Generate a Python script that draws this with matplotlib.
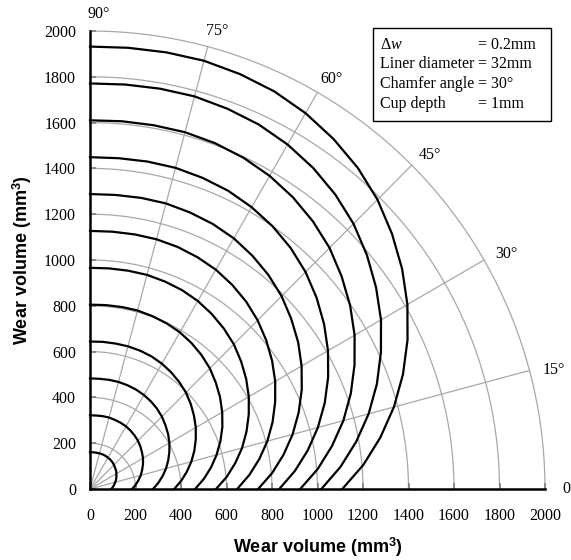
import numpy as np
import matplotlib
matplotlib.use("Agg")
import matplotlib.pyplot as plt
from matplotlib.patches import Rectangle

plt.rcParams['font.family'] = ['Liberation Serif', 'DejaVu Serif']
plt.rcParams['mathtext.fontset'] = 'custom'
plt.rcParams['mathtext.rm'] = 'Liberation Serif'
plt.rcParams['mathtext.it'] = 'Liberation Serif:italic'
plt.rcParams['mathtext.bf'] = 'Liberation Sans:bold'

# ---- data ----
angles_deg = [0, 5, 10, 15, 20, 25, 30, 35, 40, 45, 50, 55, 60, 65, 70, 75, 80, 85, 90]
# wear volume (mm^3) of each curve at the angles above (depth steps of 0.2 mm)
curve_01 = [94, 101, 108, 115, 122, 128, 134, 140, 144, 149, 153, 156, 158, 160, 161, 161, 161, 161, 161]
curve_02 = [185, 201, 216, 231, 244, 257, 269, 279, 289, 298, 305, 311, 316, 319, 321, 323, 323, 322, 322]
curve_03 = [277, 301, 324, 346, 366, 385, 403, 419, 433, 447, 458, 467, 474, 479, 482, 484, 484, 483, 483]
curve_04 = [370, 402, 432, 461, 488, 513, 537, 558, 578, 596, 610, 622, 632, 639, 643, 645, 645, 645, 644]
curve_05 = [462, 502, 540, 576, 610, 642, 671, 698, 722, 745, 763, 778, 790, 798, 803, 807, 807, 806, 805]
curve_06 = [554, 603, 648, 692, 732, 770, 806, 838, 867, 894, 915, 933, 948, 958, 964, 968, 968, 967, 966]
curve_07 = [647, 703, 756, 807, 854, 898, 940, 977, 1011, 1042, 1068, 1089, 1106, 1117, 1125, 1129, 1129, 1128, 1127]
curve_08 = [739, 804, 864, 922, 976, 1027, 1074, 1117, 1155, 1191, 1220, 1244, 1264, 1277, 1285, 1291, 1291, 1289, 1288]
curve_09 = [832, 904, 972, 1037, 1098, 1155, 1208, 1256, 1300, 1340, 1373, 1400, 1421, 1437, 1446, 1452, 1452, 1450, 1449]
curve_10 = [924, 1005, 1080, 1153, 1220, 1283, 1343, 1396, 1444, 1489, 1525, 1555, 1579, 1596, 1607, 1613, 1613, 1612, 1610]
curve_11 = [1017, 1105, 1188, 1268, 1342, 1411, 1477, 1535, 1589, 1638, 1678, 1711, 1737, 1756, 1767, 1775, 1775, 1773, 1771]
curve_12 = [1109, 1206, 1296, 1383, 1464, 1540, 1611, 1675, 1733, 1787, 1831, 1866, 1895, 1916, 1928, 1936, 1936, 1934, 1932]
curves = [curve_01, curve_02, curve_03, curve_04, curve_05, curve_06,
          curve_07, curve_08, curve_09, curve_10, curve_11, curve_12]

grid_radii = [200, 400, 600, 800, 1000, 1200, 1400, 1600, 1800, 2000]
grid_angles = [15, 30, 45, 60, 75]
angle_labels = ["0°", "15°", "30°", "45°", "60°", "75°", "90°"]
label_angles = [0, 15, 30, 45, 60, 75, 90]
tick_values = [0, 200, 400, 600, 800, 1000, 1200, 1400, 1600, 1800, 2000]
info_left = ["Δ$w$", "Liner diameter", "Chamfer angle", "Cup depth"]
info_right = ["= 0.2mm", "= 32mm", "= 30°", "= 1mm"]

W, H = 571, 560
fig = plt.figure(figsize=(W / 100, H / 100), dpi=100)
ax = fig.add_axes([90 / W, 1 - 489 / H, 455 / W, 458 / H])
ax.set_xlim(0, 2000)
ax.set_ylim(0, 2000)

grey = '#a8a8a8'
# polar grid arcs
t = np.radians(np.linspace(0, 90, 181))
for r in grid_radii:
    ax.plot(r * np.cos(t), r * np.sin(t), color=grey, lw=0.9, zorder=1, clip_on=False)
for a in grid_angles:
    ar = np.radians(a)
    ax.plot([0, 2000 * np.cos(ar)], [0, 2000 * np.sin(ar)], color=grey, lw=0.9, zorder=1)

# curves
th = np.radians(angles_deg)
for c in curves:
    r = np.array(c, dtype=float)
    ax.plot(r * np.cos(th), r * np.sin(th), color='black', lw=1.6, zorder=3,
            solid_joinstyle='round', clip_on=False)

# angle labels
for lab, a in zip(angle_labels, label_angles):
    ar = np.radians(a)
    rr = 2095
    dx = 15 + (25 if a == 90 else 0)
    dy = 0 if a == 0 else -22
    ax.text(rr * np.cos(ar) + dx, rr * np.sin(ar) + dy,
            lab, ha='center', va='center', fontsize=11.5, clip_on=False)

# spines and ticks
for s in ['top', 'right']:
    ax.spines[s].set_visible(False)
for s in ['left', 'bottom']:
    ax.spines[s].set_linewidth(1.8)
    ax.spines[s].set_zorder(5)
ax.set_xticks(tick_values)
ax.set_yticks(tick_values)
ax.tick_params(axis='both', direction='in', length=4, width=1.2, color='#7f7f7f',
               labelsize=11.5)
ax.tick_params(axis='x', pad=14)
ax.tick_params(axis='y', pad=10)

ax.set_xlabel(r"Wear volume (mm$^{\mathbf{3}}$)", fontsize=13, fontweight='bold',
              family='Liberation Sans', labelpad=8)
ax.set_ylabel(r"Wear volume (mm$^{\mathbf{3}}$)", fontsize=13, fontweight='bold',
              family='Liberation Sans', labelpad=7)

# info box (figure pixel coordinates)
def fx(px):
    return px / W

def fy(py):
    return 1 - py / H

fig.patches.append(Rectangle((fx(373), fy(120.5)), (551 - 373) / W, (120.5 - 27.5) / H,
                             transform=fig.transFigure, fill=False, edgecolor='black',
                             lw=1.0, zorder=10))
ys = [45, 64.5, 84, 103.5]
for yl, lt, rt in zip(ys, info_left, info_right):
    fig.text(fx(380), fy(yl), lt, ha='left', va='center', fontsize=11.5)
    fig.text(fx(478), fy(yl), rt, ha='left', va='center', fontsize=11.5)

fig.savefig("out.png", dpi=100)
